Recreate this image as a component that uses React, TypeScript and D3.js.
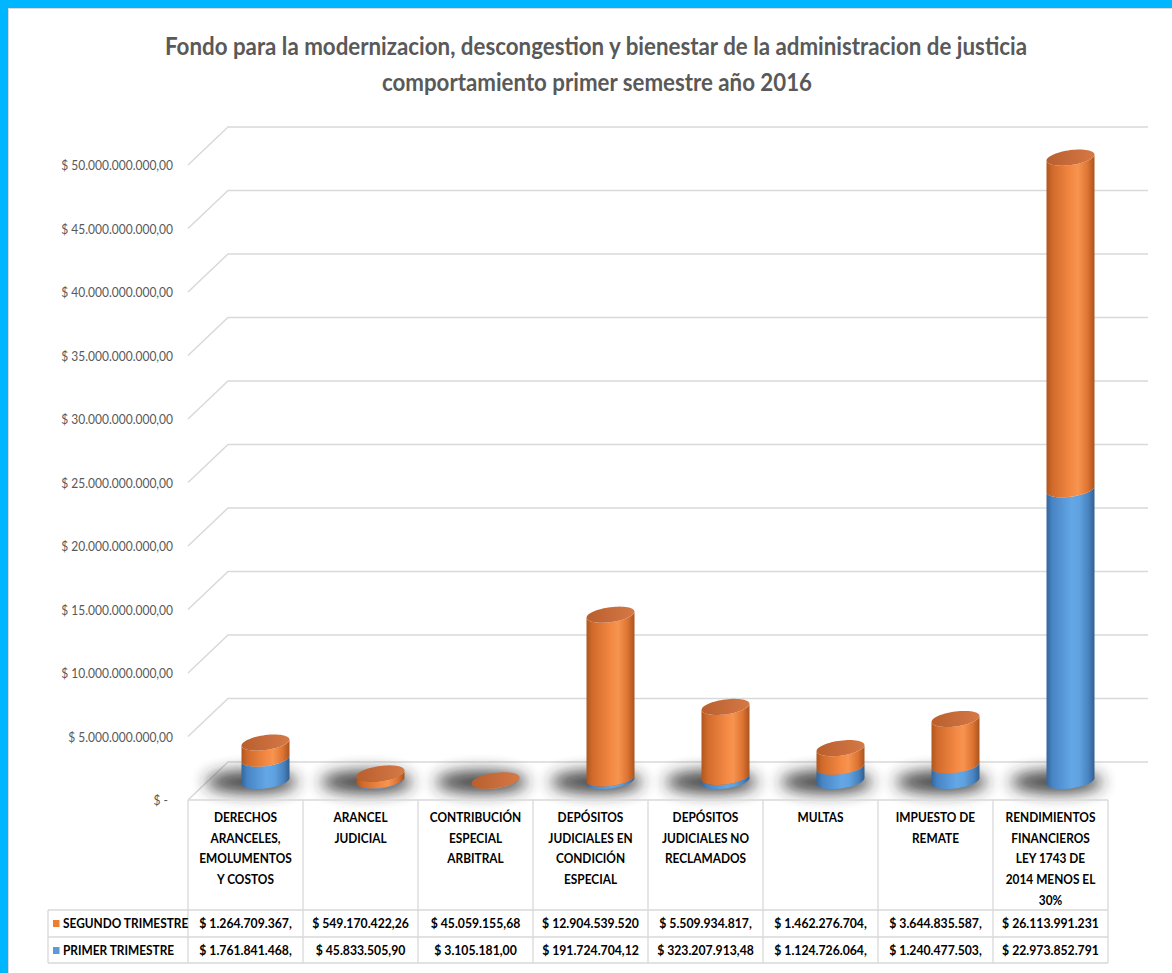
import React from "react";
import * as d3 from "d3";

const categories = ["c1", "c2", "c3", "c4", "c5", "c6", "c7", "c8"];
const categoryLines: string[][] = [
  ["DERECHOS", "ARANCELES,", "EMOLUMENTOS", "Y COSTOS"],
  ["ARANCEL", "JUDICIAL"],
  ["CONTRIBUCIÓN", "ESPECIAL", "ARBITRAL"],
  ["DEPÓSITOS", "JUDICIALES EN", "CONDICIÓN", "ESPECIAL"],
  ["DEPÓSITOS", "JUDICIALES NO", "RECLAMADOS"],
  ["MULTAS"],
  ["IMPUESTO DE", "REMATE"],
  ["RENDIMIENTOS", "FINANCIEROS", "LEY 1743 DE", "2014 MENOS EL", "30%"],
];
const primerTrimestre = [
  1761841468, 45833505.9, 3105181.0, 191724704.12, 323207913.48, 1124726064,
  1240477503, 22973852791,
];
const segundoTrimestre = [
  1264709367, 549170422.26, 45059155.68, 12904539520, 5509934817, 1462276704,
  3644835587, 26113991231,
];
const primerLabels = [
  "$ 1.761.841.468,", "$ 45.833.505,90", "$ 3.105.181,00", "$ 191.724.704,12",
  "$ 323.207.913,48", "$ 1.124.726.064,", "$ 1.240.477.503,", "$ 22.973.852.791",
];
const segundoLabels = [
  "$ 1.264.709.367,", "$ 549.170.422,26", "$ 45.059.155,68", "$ 12.904.539.520",
  "$ 5.509.934.817,", "$ 1.462.276.704,", "$ 3.644.835.587,", "$ 26.113.991.231",
];
const seriesNames = ["SEGUNDO TRIMESTRE", "PRIMER TRIMESTRE"];
const yTicks = d3.range(0, 50e9 + 1, 5e9);
const titleLines = [
  "Fondo para la modernizacion, descongestion y bienestar de la administracion de justicia",
  "comportamiento primer semestre año 2016",
];

const W = 1172;
const H = 973;
const FONT = "Lato, 'Open Sans', sans-serif";

const locale = d3.formatLocale({
  decimal: ",",
  thousands: ".",
  grouping: [3],
  currency: ["$ ", ""],
});
const fmt = locale.format(",.2f");
const tickLabel = (v: number) => (v === 0 ? "$ -" : "$ " + fmt(v));

export default function App() {
  const x = d3.scaleBand<string>().domain(categories).range([188, 1108]).padding(0);
  const y = d3.scaleLinear().domain([0, 50e9]).range([762, 127]);
  const DX = 40;
  const DY = 38;
  const backRight = 1148;
  const bw = x.bandwidth();
  const rx = 24;
  const ry = 7.5;
  const sh = 3;
  const line = d3.line<[number, number]>();

  const pt = (cx: number, cy: number, t: number): [number, number] => [
    cx + rx * Math.cos(t),
    cy + ry * Math.sin(t) - sh * Math.cos(t),
  ];
  const N = 32;
  const bodyPath = (cx: number, yb: number, yt: number) => {
    const pts: [number, number][] = [];
    pts.push(pt(cx, yt, Math.PI));
    for (let i = 0; i <= N; i++) pts.push(pt(cx, yb, Math.PI - (Math.PI * i) / N));
    for (let i = 0; i <= N; i++) pts.push(pt(cx, yt, (Math.PI * i) / N));
    return line(pts) + "Z";
  };
  const facePath = (cx: number, yc: number) => {
    const pts: [number, number][] = [];
    for (let i = 0; i < 2 * N; i++) pts.push(pt(cx, yc, (2 * Math.PI * i) / (2 * N)));
    return line(pts) + "Z";
  };

  const barCx = (c: string) => (x(c) as number) + bw / 2 + DX / 2;
  const yMid = (v: number) => y(v) + DY / 2;

  const tableTop = y(0) + DY; // 800
  const headerBottom = 910;
  const row1Bottom = 937;
  const row2Bottom = 963;
  const legendLeft = 48;
  const tableRight = 1108;
  const grid = "#D9D9D9";

  return (
    <svg
      width={W}
      height={H}
      viewBox={`0 0 ${W} ${H}`}
      style={{ position: "absolute", left: 0, top: 0, display: "block", background: "#fff" }}
    >
      <defs>
        <linearGradient id="gOrange" x1="0" x2="1" y1="0" y2="0">
          <stop offset="0" stopColor="#B0561F" />
          <stop offset="0.12" stopColor="#D06A2B" />
          <stop offset="0.5" stopColor="#F38843" />
          <stop offset="0.66" stopColor="#F7944F" />
          <stop offset="0.86" stopColor="#DE7332" />
          <stop offset="1" stopColor="#A9541F" />
        </linearGradient>
        <linearGradient id="gBlue" x1="0" x2="1" y1="0" y2="0">
          <stop offset="0" stopColor="#33669E" />
          <stop offset="0.12" stopColor="#4884C4" />
          <stop offset="0.52" stopColor="#63A7E6" />
          <stop offset="0.68" stopColor="#60A2E0" />
          <stop offset="0.88" stopColor="#4782BE" />
          <stop offset="1" stopColor="#315E90" />
        </linearGradient>
        <linearGradient id="gTop" x1="0" x2="1" y1="0" y2="0">
          <stop offset="0" stopColor="#B95F2E" />
          <stop offset="0.6" stopColor="#C96E3C" />
          <stop offset="1" stopColor="#D57A46" />
        </linearGradient>
        <filter id="blur" x="-100%" y="-200%" width="300%" height="500%">
          <feGaussianBlur stdDeviation="8" />
        </filter>
      </defs>

      <rect x={0} y={0} width={W} height={H} fill="#fff" />
      <rect x={8.5} y={8.5} width={W + 10} height={H + 10} fill="none" stroke="#D9D9D9" strokeWidth={1} />
      <rect x={0} y={0} width={W} height={8} fill="#00B7FF" />
      <rect x={0} y={0} width={8} height={H} fill="#00B7FF" />

      {/* title */}
      <g fontFamily={FONT} fontWeight={700} fill="#595959" fontSize={25}>
        <text x={596} y={55} textAnchor="middle" textLength={862} lengthAdjust="spacingAndGlyphs">
          {titleLines[0]}
        </text>
        <text x={597} y={91} textAnchor="middle" textLength={430} lengthAdjust="spacingAndGlyphs">
          {titleLines[1]}
        </text>
      </g>

      {/* gridlines */}
      {yTicks.map((t) => (
        <path
          key={"g" + t}
          d={`M${188},${y(t) + DY}L${188 + DX},${y(t)}L${backRight},${y(t)}`}
          fill="none"
          stroke={grid}
          strokeWidth={1.5}
        />
      ))}

      {/* y tick labels */}
      <g fontFamily={FONT} fontSize={13.8} fill="#595959">
        {yTicks.map((t) => (
          <text
            key={"t" + t}
            transform={`translate(${t === 0 ? 168 : 173},${y(t) + DY + 5}) scale(0.87,1)`}
            textAnchor="end"
          >
            {tickLabel(t)}
          </text>
        ))}
      </g>

      {/* shadows */}
      {categories.map((c) => (
        <ellipse
          key={"s" + c}
          cx={barCx(c) - 14}
          cy={yMid(0) + 1}
          rx={46}
          ry={11}
          fill="#262626"
          opacity={0.88}
          filter="url(#blur)"
        />
      ))}

      {/* cylinders */}
      {categories.map((c, i) => {
        const cx = barCx(c);
        const v1 = primerTrimestre[i];
        const v2 = segundoTrimestre[i];
        const y0 = yMid(0);
        const y1 = yMid(v1);
        const y2 = yMid(v1 + v2);
        return (
          <g key={"b" + c}>
            <path d={bodyPath(cx, y0, y1)} fill="url(#gBlue)" />
            <path d={bodyPath(cx, y1, y2)} fill="url(#gOrange)" />
            <path d={facePath(cx, y2)} fill="url(#gTop)" />
          </g>
        );
      })}

      {/* table */}
      <g stroke={grid} strokeWidth={1.3} fill="none">
        <line x1={188} x2={tableRight} y1={tableTop} y2={tableTop} />
        {categories.map((c) => (
          <line key={"v" + c} x1={x(c) as number} x2={x(c) as number} y1={tableTop} y2={row2Bottom} />
        ))}
        <line x1={tableRight} x2={tableRight} y1={tableTop} y2={row2Bottom} />
        <line x1={legendLeft} x2={legendLeft} y1={headerBottom} y2={row2Bottom} />
        <line x1={legendLeft} x2={tableRight} y1={headerBottom} y2={headerBottom} />
        <line x1={legendLeft} x2={tableRight} y1={row1Bottom} y2={row1Bottom} />
        <line x1={legendLeft} x2={tableRight} y1={row2Bottom} y2={row2Bottom} />
      </g>

      <g fontFamily={FONT} fontWeight={700} fontSize={13.2} fill="#000">
        {categories.map((c, i) =>
          categoryLines[i].map((ln, j) => (
            <text
              key={"h" + c + j}
              transform={`translate(${(x(c) as number) + bw / 2},${822 + j * 20.7}) scale(0.9,1)`}
              textAnchor="middle"
            >
              {ln}
            </text>
          ))
        )}
      </g>

      <g fontFamily={FONT} fontWeight={700} fontSize={13.6} fill="#000">
        {categories.map((c, i) => (
          <text
            key={"r1" + c}
            transform={`translate(${(x(c) as number) + bw / 2},${928}) scale(0.9,1)`}
            textAnchor="middle"
          >
            {segundoLabels[i]}
          </text>
        ))}
        {categories.map((c, i) => (
          <text
            key={"r2" + c}
            transform={`translate(${(x(c) as number) + bw / 2},${955}) scale(0.9,1)`}
            textAnchor="middle"
          >
            {primerLabels[i]}
          </text>
        ))}
      </g>

      {/* legend cells */}
      <rect x={53} y={920} width={6.5} height={7} fill="#ED7D31" />
      <rect x={53} y={947} width={6.5} height={7} fill="#5B9BD5" />
      <g fontFamily={FONT} fontWeight={700} fontSize={13.2} fill="#000">
        <text transform={`translate(63,928) scale(0.9,1)`}>{seriesNames[0]}</text>
        <text transform={`translate(63,955) scale(0.9,1)`}>{seriesNames[1]}</text>
      </g>
    </svg>
  );
}
